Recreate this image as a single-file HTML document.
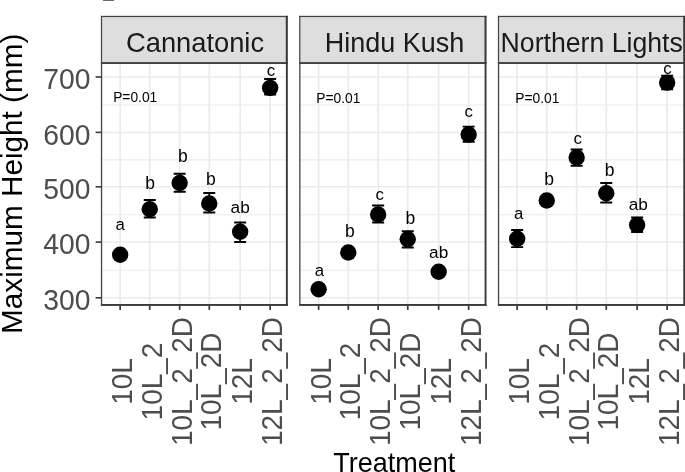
<!DOCTYPE html>
<html><head><meta charset="utf-8"><title>Maximum Height by Treatment</title>
<style>
html,body{margin:0;padding:0;background:#fff;}
body{width:685px;height:472px;overflow:hidden;}
svg{display:block;will-change:transform;font-family:"Liberation Sans",sans-serif;}
.ax{font-size:28px;fill:#4d4d4d;}
.st{fill:#1a1a1a;}
.tt{font-size:27px;fill:#000;}
.ty{font-size:29.7px;fill:#000;}
.lb{font-size:17.5px;fill:#000;}
.pv{font-size:13.8px;fill:#000;}
</style></head><body>
<svg width="685" height="472" viewBox="0 0 685 472">
<rect width="685" height="472" fill="#fff"/>
<rect x="103" y="-0.2" width="11" height="1.1" fill="#5a5a5a"/>
<g>
<rect x="100.90" y="15.85" width="186.90" height="48.10" fill="#dedede"/>
<rect x="100.90" y="62.10" width="186.90" height="243.80" fill="#fff"/>
<line x1="100.9" x2="287.8" y1="270.25" y2="270.25" stroke="#ebebeb" stroke-width="1.1"/>
<line x1="100.9" x2="287.8" y1="214.75" y2="214.75" stroke="#ebebeb" stroke-width="1.1"/>
<line x1="100.9" x2="287.8" y1="159.90" y2="159.90" stroke="#ebebeb" stroke-width="1.1"/>
<line x1="100.9" x2="287.8" y1="105.00" y2="105.00" stroke="#ebebeb" stroke-width="1.1"/>
<line x1="100.9" x2="287.8" y1="297.80" y2="297.80" stroke="#ebebeb" stroke-width="1.5"/>
<line x1="100.9" x2="287.8" y1="242.10" y2="242.10" stroke="#ebebeb" stroke-width="1.5"/>
<line x1="100.9" x2="287.8" y1="186.80" y2="186.80" stroke="#ebebeb" stroke-width="1.5"/>
<line x1="100.9" x2="287.8" y1="132.40" y2="132.40" stroke="#ebebeb" stroke-width="1.5"/>
<line x1="100.9" x2="287.8" y1="77.00" y2="77.00" stroke="#ebebeb" stroke-width="1.5"/>
<line x1="120.15" x2="120.15" y1="62.1" y2="305.9" stroke="#ebebeb" stroke-width="1.7"/>
<line x1="149.75" x2="149.75" y1="62.1" y2="305.9" stroke="#ebebeb" stroke-width="1.7"/>
<line x1="179.65" x2="179.65" y1="62.1" y2="305.9" stroke="#ebebeb" stroke-width="1.7"/>
<line x1="209.25" x2="209.25" y1="62.1" y2="305.9" stroke="#ebebeb" stroke-width="1.7"/>
<line x1="240.15" x2="240.15" y1="62.1" y2="305.9" stroke="#ebebeb" stroke-width="1.7"/>
<line x1="270.15" x2="270.15" y1="62.1" y2="305.9" stroke="#ebebeb" stroke-width="1.7"/>
<circle cx="120.15" cy="254.7" r="8.2" fill="#000"/>
<text class="lb" style="font-size:16.8px" x="120.15" y="230.00" text-anchor="middle">a</text>
<path d="M143.75 200H155.75M149.75 200V217.5M143.75 217.5H155.75" stroke="#000" stroke-width="1.8" fill="none"/>
<circle cx="149.75" cy="209.25" r="8.2" fill="#000"/>
<text class="lb" style="font-size:17.5px" x="150.05" y="189.25" text-anchor="middle">b</text>
<path d="M173.65 173.75H185.65M179.65 173.75V191.75M173.65 191.75H185.65" stroke="#000" stroke-width="1.8" fill="none"/>
<circle cx="179.65" cy="183" r="8.2" fill="#000"/>
<text class="lb" style="font-size:17.5px" x="182.85" y="161.75" text-anchor="middle">b</text>
<path d="M203.25 193H215.25M209.25 193V212.5M203.25 212.5H215.25" stroke="#000" stroke-width="1.8" fill="none"/>
<circle cx="209.25" cy="203.5" r="8.2" fill="#000"/>
<text class="lb" style="font-size:17.5px" x="210.75" y="184.75" text-anchor="middle">b</text>
<path d="M234.15 222.5H246.15M240.15 222.5V242M234.15 242H246.15" stroke="#000" stroke-width="1.8" fill="none"/>
<circle cx="240.15" cy="231.75" r="8.2" fill="#000"/>
<text class="lb" style="font-size:17.2px" x="240.15" y="212.50" text-anchor="middle">ab</text>
<path d="M264.15 79H276.15M270.15 79V94.7M264.15 94.7H276.15" stroke="#000" stroke-width="1.8" fill="none"/>
<circle cx="270.15" cy="87.9" r="8.2" fill="#000"/>
<text class="lb" style="font-size:16.8px" x="271.05" y="76.20" text-anchor="middle">c</text>
<text class="pv" x="113.15" y="102.25">P=0.01</text>
<rect x="100.90" y="15.85" width="186.90" height="1.25" fill="#444"/>
<rect x="100.90" y="15.85" width="1.20" height="46.25" fill="#444"/>
<rect x="285.80" y="15.85" width="2.00" height="46.25" fill="#393939"/>
<rect x="100.90" y="62.10" width="186.90" height="1.85" fill="#393939"/>
<rect x="100.90" y="304.00" width="186.90" height="1.90" fill="#393939"/>
<rect x="100.90" y="62.10" width="1.30" height="243.80" fill="#444"/>
<rect x="285.90" y="62.10" width="1.90" height="243.80" fill="#393939"/>
<text class="st" style="font-size:27.3px" transform="translate(195.05 52.3) scale(1,1.03)" text-anchor="middle">Cannatonic</text>
<line x1="120.15" x2="120.15" y1="305.7" y2="309.9" stroke="#393939" stroke-width="1.7"/>
<text class="ax" transform="translate(132.35 381.5) rotate(-90) scale(1,1.035)" text-anchor="middle">10L</text>
<line x1="149.75" x2="149.75" y1="305.7" y2="309.9" stroke="#393939" stroke-width="1.7"/>
<text class="ax" transform="translate(161.95 381.5) rotate(-90) scale(1,1.035)" text-anchor="middle">10L_2</text>
<line x1="179.65" x2="179.65" y1="305.7" y2="309.9" stroke="#393939" stroke-width="1.7"/>
<text class="ax" transform="translate(191.85 381.5) rotate(-90) scale(1,1.035)" text-anchor="middle">10L_2_2D</text>
<line x1="209.25" x2="209.25" y1="305.7" y2="309.9" stroke="#393939" stroke-width="1.7"/>
<text class="ax" transform="translate(221.45 381.5) rotate(-90) scale(1,1.035)" text-anchor="middle">10L_2D</text>
<line x1="240.15" x2="240.15" y1="305.7" y2="309.9" stroke="#393939" stroke-width="1.7"/>
<text class="ax" transform="translate(252.35 381.5) rotate(-90) scale(1,1.035)" text-anchor="middle">12L</text>
<line x1="270.15" x2="270.15" y1="305.7" y2="309.9" stroke="#393939" stroke-width="1.7"/>
<text class="ax" transform="translate(282.35 381.5) rotate(-90) scale(1,1.035)" text-anchor="middle">12L_2_2D</text>
</g>
<g>
<rect x="299.20" y="15.85" width="187.30" height="48.10" fill="#dedede"/>
<rect x="299.20" y="62.10" width="187.30" height="243.80" fill="#fff"/>
<line x1="299.2" x2="486.5" y1="270.25" y2="270.25" stroke="#ebebeb" stroke-width="1.1"/>
<line x1="299.2" x2="486.5" y1="214.75" y2="214.75" stroke="#ebebeb" stroke-width="1.1"/>
<line x1="299.2" x2="486.5" y1="159.90" y2="159.90" stroke="#ebebeb" stroke-width="1.1"/>
<line x1="299.2" x2="486.5" y1="105.00" y2="105.00" stroke="#ebebeb" stroke-width="1.1"/>
<line x1="299.2" x2="486.5" y1="297.80" y2="297.80" stroke="#ebebeb" stroke-width="1.5"/>
<line x1="299.2" x2="486.5" y1="242.10" y2="242.10" stroke="#ebebeb" stroke-width="1.5"/>
<line x1="299.2" x2="486.5" y1="186.80" y2="186.80" stroke="#ebebeb" stroke-width="1.5"/>
<line x1="299.2" x2="486.5" y1="132.40" y2="132.40" stroke="#ebebeb" stroke-width="1.5"/>
<line x1="299.2" x2="486.5" y1="77.00" y2="77.00" stroke="#ebebeb" stroke-width="1.5"/>
<line x1="318.65" x2="318.65" y1="62.1" y2="305.9" stroke="#ebebeb" stroke-width="1.7"/>
<line x1="348.25" x2="348.25" y1="62.1" y2="305.9" stroke="#ebebeb" stroke-width="1.7"/>
<line x1="378.15" x2="378.15" y1="62.1" y2="305.9" stroke="#ebebeb" stroke-width="1.7"/>
<line x1="407.75" x2="407.75" y1="62.1" y2="305.9" stroke="#ebebeb" stroke-width="1.7"/>
<line x1="438.65" x2="438.65" y1="62.1" y2="305.9" stroke="#ebebeb" stroke-width="1.7"/>
<line x1="468.65" x2="468.65" y1="62.1" y2="305.9" stroke="#ebebeb" stroke-width="1.7"/>
<circle cx="318.65" cy="289.25" r="8.2" fill="#000"/>
<text class="lb" style="font-size:16.8px" x="319.35" y="275.50" text-anchor="middle">a</text>
<circle cx="348.25" cy="252.5" r="8.2" fill="#000"/>
<text class="lb" style="font-size:17.5px" x="349.75" y="236.75" text-anchor="middle">b</text>
<path d="M372.15 205.5H384.15M378.15 205.5V222.5M372.15 222.5H384.15" stroke="#000" stroke-width="1.8" fill="none"/>
<circle cx="378.15" cy="214.5" r="8.2" fill="#000"/>
<text class="lb" style="font-size:16.8px" x="379.65" y="199.75" text-anchor="middle">c</text>
<path d="M401.75 231.25H413.75M407.75 231.25V247.5M401.75 247.5H413.75" stroke="#000" stroke-width="1.8" fill="none"/>
<circle cx="407.75" cy="239.25" r="8.2" fill="#000"/>
<text class="lb" style="font-size:17.5px" x="410.25" y="223.75" text-anchor="middle">b</text>
<circle cx="438.65" cy="271.75" r="8.2" fill="#000"/>
<text class="lb" style="font-size:17.2px" x="438.65" y="258.00" text-anchor="middle">ab</text>
<path d="M462.65 126.6H474.65M468.65 126.6V141.8M462.65 141.8H474.65" stroke="#000" stroke-width="1.8" fill="none"/>
<circle cx="468.65" cy="134.5" r="8.2" fill="#000"/>
<text class="lb" style="font-size:16.8px" x="468.65" y="117.30" text-anchor="middle">c</text>
<text class="pv" x="316.25" y="103.4">P=0.01</text>
<rect x="299.20" y="15.85" width="187.30" height="1.25" fill="#444"/>
<rect x="299.20" y="15.85" width="1.20" height="46.25" fill="#444"/>
<rect x="484.50" y="15.85" width="2.00" height="46.25" fill="#393939"/>
<rect x="299.20" y="62.10" width="187.30" height="1.85" fill="#393939"/>
<rect x="299.20" y="304.00" width="187.30" height="1.90" fill="#393939"/>
<rect x="299.20" y="62.10" width="1.30" height="243.80" fill="#444"/>
<rect x="484.60" y="62.10" width="1.90" height="243.80" fill="#393939"/>
<text class="st" style="font-size:27.0px" transform="translate(394.60 52.3) scale(1,1.03)" text-anchor="middle">Hindu Kush</text>
<line x1="318.65" x2="318.65" y1="305.7" y2="309.9" stroke="#393939" stroke-width="1.7"/>
<text class="ax" transform="translate(330.85 381.5) rotate(-90) scale(1,1.035)" text-anchor="middle">10L</text>
<line x1="348.25" x2="348.25" y1="305.7" y2="309.9" stroke="#393939" stroke-width="1.7"/>
<text class="ax" transform="translate(360.45 381.5) rotate(-90) scale(1,1.035)" text-anchor="middle">10L_2</text>
<line x1="378.15" x2="378.15" y1="305.7" y2="309.9" stroke="#393939" stroke-width="1.7"/>
<text class="ax" transform="translate(390.35 381.5) rotate(-90) scale(1,1.035)" text-anchor="middle">10L_2_2D</text>
<line x1="407.75" x2="407.75" y1="305.7" y2="309.9" stroke="#393939" stroke-width="1.7"/>
<text class="ax" transform="translate(419.95 381.5) rotate(-90) scale(1,1.035)" text-anchor="middle">10L_2D</text>
<line x1="438.65" x2="438.65" y1="305.7" y2="309.9" stroke="#393939" stroke-width="1.7"/>
<text class="ax" transform="translate(450.85 381.5) rotate(-90) scale(1,1.035)" text-anchor="middle">12L</text>
<line x1="468.65" x2="468.65" y1="305.7" y2="309.9" stroke="#393939" stroke-width="1.7"/>
<text class="ax" transform="translate(480.85 381.5) rotate(-90) scale(1,1.035)" text-anchor="middle">12L_2_2D</text>
</g>
<g>
<rect x="497.90" y="15.85" width="187.30" height="48.10" fill="#dedede"/>
<rect x="497.90" y="62.10" width="187.30" height="243.80" fill="#fff"/>
<line x1="497.9" x2="685.2" y1="270.25" y2="270.25" stroke="#ebebeb" stroke-width="1.1"/>
<line x1="497.9" x2="685.2" y1="214.75" y2="214.75" stroke="#ebebeb" stroke-width="1.1"/>
<line x1="497.9" x2="685.2" y1="159.90" y2="159.90" stroke="#ebebeb" stroke-width="1.1"/>
<line x1="497.9" x2="685.2" y1="105.00" y2="105.00" stroke="#ebebeb" stroke-width="1.1"/>
<line x1="497.9" x2="685.2" y1="297.80" y2="297.80" stroke="#ebebeb" stroke-width="1.5"/>
<line x1="497.9" x2="685.2" y1="242.10" y2="242.10" stroke="#ebebeb" stroke-width="1.5"/>
<line x1="497.9" x2="685.2" y1="186.80" y2="186.80" stroke="#ebebeb" stroke-width="1.5"/>
<line x1="497.9" x2="685.2" y1="132.40" y2="132.40" stroke="#ebebeb" stroke-width="1.5"/>
<line x1="497.9" x2="685.2" y1="77.00" y2="77.00" stroke="#ebebeb" stroke-width="1.5"/>
<line x1="517.15" x2="517.15" y1="62.1" y2="305.9" stroke="#ebebeb" stroke-width="1.7"/>
<line x1="546.75" x2="546.75" y1="62.1" y2="305.9" stroke="#ebebeb" stroke-width="1.7"/>
<line x1="576.65" x2="576.65" y1="62.1" y2="305.9" stroke="#ebebeb" stroke-width="1.7"/>
<line x1="606.25" x2="606.25" y1="62.1" y2="305.9" stroke="#ebebeb" stroke-width="1.7"/>
<line x1="637.15" x2="637.15" y1="62.1" y2="305.9" stroke="#ebebeb" stroke-width="1.7"/>
<line x1="667.15" x2="667.15" y1="62.1" y2="305.9" stroke="#ebebeb" stroke-width="1.7"/>
<path d="M511.15 230H523.15M517.15 230V247.2M511.15 247.2H523.15" stroke="#000" stroke-width="1.8" fill="none"/>
<circle cx="517.15" cy="238.75" r="8.2" fill="#000"/>
<text class="lb" style="font-size:16.8px" x="518.65" y="218.95" text-anchor="middle">a</text>
<circle cx="546.75" cy="200.5" r="8.2" fill="#000"/>
<text class="lb" style="font-size:17.5px" x="549.05" y="184.95" text-anchor="middle">b</text>
<path d="M570.65 149.5H582.65M576.65 149.5V165.75M570.65 165.75H582.65" stroke="#000" stroke-width="1.8" fill="none"/>
<circle cx="576.65" cy="157.5" r="8.2" fill="#000"/>
<text class="lb" style="font-size:16.8px" x="577.65" y="144.45" text-anchor="middle">c</text>
<path d="M600.25 183H612.25M606.25 183V202.5M600.25 202.5H612.25" stroke="#000" stroke-width="1.8" fill="none"/>
<circle cx="606.25" cy="193.25" r="8.2" fill="#000"/>
<text class="lb" style="font-size:17.5px" x="609.55" y="176.20" text-anchor="middle">b</text>
<path d="M631.15 217.5H643.15M637.15 217.5V232M631.15 232H643.15" stroke="#000" stroke-width="1.8" fill="none"/>
<circle cx="637.15" cy="225" r="8.2" fill="#000"/>
<text class="lb" style="font-size:17.2px" x="638.35" y="209.95" text-anchor="middle">ab</text>
<path d="M661.15 75.6H673.15M667.15 75.6V89.3M661.15 89.3H673.15" stroke="#000" stroke-width="1.8" fill="none"/>
<circle cx="667.15" cy="82.6" r="8.2" fill="#000"/>
<text class="lb" style="font-size:16.8px" x="667.55" y="73.90" text-anchor="middle">c</text>
<text class="pv" x="515.25" y="103.4">P=0.01</text>
<rect x="497.90" y="15.85" width="187.30" height="1.25" fill="#444"/>
<rect x="497.90" y="15.85" width="1.20" height="46.25" fill="#444"/>
<rect x="683.20" y="15.85" width="2.00" height="46.25" fill="#393939"/>
<rect x="497.90" y="62.10" width="187.30" height="1.85" fill="#393939"/>
<rect x="497.90" y="304.00" width="187.30" height="1.90" fill="#393939"/>
<rect x="497.90" y="62.10" width="1.30" height="243.80" fill="#444"/>
<rect x="683.30" y="62.10" width="1.90" height="243.80" fill="#393939"/>
<text class="st" style="font-size:26.65px" transform="translate(591.65 52.3) scale(1,1.03)" text-anchor="middle">Northern Lights</text>
<line x1="517.15" x2="517.15" y1="305.7" y2="309.9" stroke="#393939" stroke-width="1.7"/>
<text class="ax" transform="translate(529.35 381.5) rotate(-90) scale(1,1.035)" text-anchor="middle">10L</text>
<line x1="546.75" x2="546.75" y1="305.7" y2="309.9" stroke="#393939" stroke-width="1.7"/>
<text class="ax" transform="translate(558.95 381.5) rotate(-90) scale(1,1.035)" text-anchor="middle">10L_2</text>
<line x1="576.65" x2="576.65" y1="305.7" y2="309.9" stroke="#393939" stroke-width="1.7"/>
<text class="ax" transform="translate(588.85 381.5) rotate(-90) scale(1,1.035)" text-anchor="middle">10L_2_2D</text>
<line x1="606.25" x2="606.25" y1="305.7" y2="309.9" stroke="#393939" stroke-width="1.7"/>
<text class="ax" transform="translate(618.45 381.5) rotate(-90) scale(1,1.035)" text-anchor="middle">10L_2D</text>
<line x1="637.15" x2="637.15" y1="305.7" y2="309.9" stroke="#393939" stroke-width="1.7"/>
<text class="ax" transform="translate(649.35 381.5) rotate(-90) scale(1,1.035)" text-anchor="middle">12L</text>
<line x1="667.15" x2="667.15" y1="305.7" y2="309.9" stroke="#393939" stroke-width="1.7"/>
<text class="ax" transform="translate(679.35 381.5) rotate(-90) scale(1,1.035)" text-anchor="middle">12L_2_2D</text>
</g>
<line x1="95.6" x2="101.2" y1="297.80" y2="297.80" stroke="#393939" stroke-width="1.6"/>
<text class="ax" style="font-size:28.3px" transform="translate(90.4 310.10) scale(1,1.025)" text-anchor="end">300</text>
<line x1="95.6" x2="101.2" y1="242.10" y2="242.10" stroke="#393939" stroke-width="1.6"/>
<text class="ax" style="font-size:28.3px" transform="translate(90.4 254.40) scale(1,1.025)" text-anchor="end">400</text>
<line x1="95.6" x2="101.2" y1="186.80" y2="186.80" stroke="#393939" stroke-width="1.6"/>
<text class="ax" style="font-size:28.3px" transform="translate(90.4 199.10) scale(1,1.025)" text-anchor="end">500</text>
<line x1="95.6" x2="101.2" y1="132.40" y2="132.40" stroke="#393939" stroke-width="1.6"/>
<text class="ax" style="font-size:28.3px" transform="translate(90.4 144.70) scale(1,1.025)" text-anchor="end">600</text>
<line x1="95.6" x2="101.2" y1="77.00" y2="77.00" stroke="#393939" stroke-width="1.6"/>
<text class="ax" style="font-size:28.3px" transform="translate(90.4 89.30) scale(1,1.025)" text-anchor="end">700</text>
<text class="ty" transform="translate(21.8 183.8) rotate(-90)" text-anchor="middle">Maximum Height (mm)</text>
<text class="tt" transform="translate(394.3 471.5) scale(1,1.03)" text-anchor="middle">Treatment</text>
</svg></body></html>
